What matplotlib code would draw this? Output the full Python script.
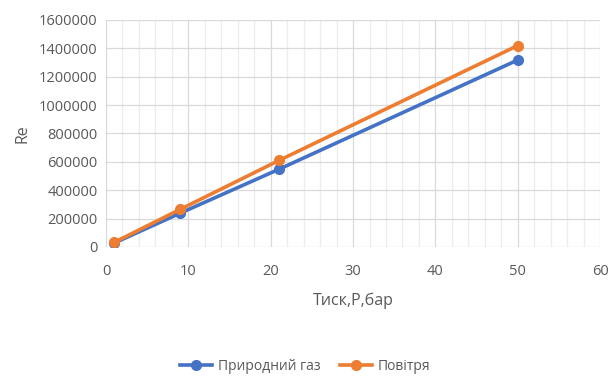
import matplotlib
matplotlib.use('Agg')
import matplotlib.pyplot as plt
from matplotlib.ticker import MultipleLocator

plt.rcParams['font.family'] = ['Open Sans', 'DejaVu Sans']

# дані
pressure = [1, 9, 21, 50]
re_gas = [28000, 238000, 548000, 1318000]
re_air = [33000, 265000, 610000, 1420000]

x_ticks = [0, 10, 20, 30, 40, 50, 60]
y_ticks = [0, 200000, 400000, 600000, 800000, 1000000, 1200000, 1400000, 1600000]

fig = plt.figure(figsize=(6.1, 3.78), dpi=100)
ax = fig.add_axes([0.1738, 0.3466, 0.81, 0.6005])

ax.plot(pressure, re_gas, 'o-', color='#4472C4', lw=2.6, ms=7, label='Природний газ', zorder=3)
ax.plot(pressure, re_air, 'o-', color='#ED7D31', lw=2.6, ms=7, label='Повітря', zorder=4)

ax.set_xlim(0, 60)
ax.set_ylim(0, 1600000)
ax.set_xticks(x_ticks)
ax.set_yticks(y_ticks)
ax.set_yticklabels([str(v) for v in y_ticks])
ax.xaxis.set_minor_locator(MultipleLocator(2))

ax.grid(which='major', color='#D9D9D9', lw=0.9)
ax.grid(which='minor', axis='x', color='#EDEDED', lw=0.9)
ax.set_axisbelow(True)
for s in ax.spines.values():
    s.set_visible(False)
ax.tick_params(which='both', length=0, colors='#595959', labelsize=10.5)
ax.tick_params(axis='x', pad=12)
ax.tick_params(axis='y', pad=6)

ax.set_xlabel('Тиск,Р,бар', fontsize=11.5, color='#595959', labelpad=10)
ax.set_ylabel('Re', fontsize=11.5, color='#595959', labelpad=6)

fig.legend(loc='center', bbox_to_anchor=(0.5, 0.03), ncol=2, frameon=False,
           fontsize=10, labelcolor='#595959', handlelength=2.3, handletextpad=0.4,
           columnspacing=1.4)

fig.savefig('out.png', dpi=100)
